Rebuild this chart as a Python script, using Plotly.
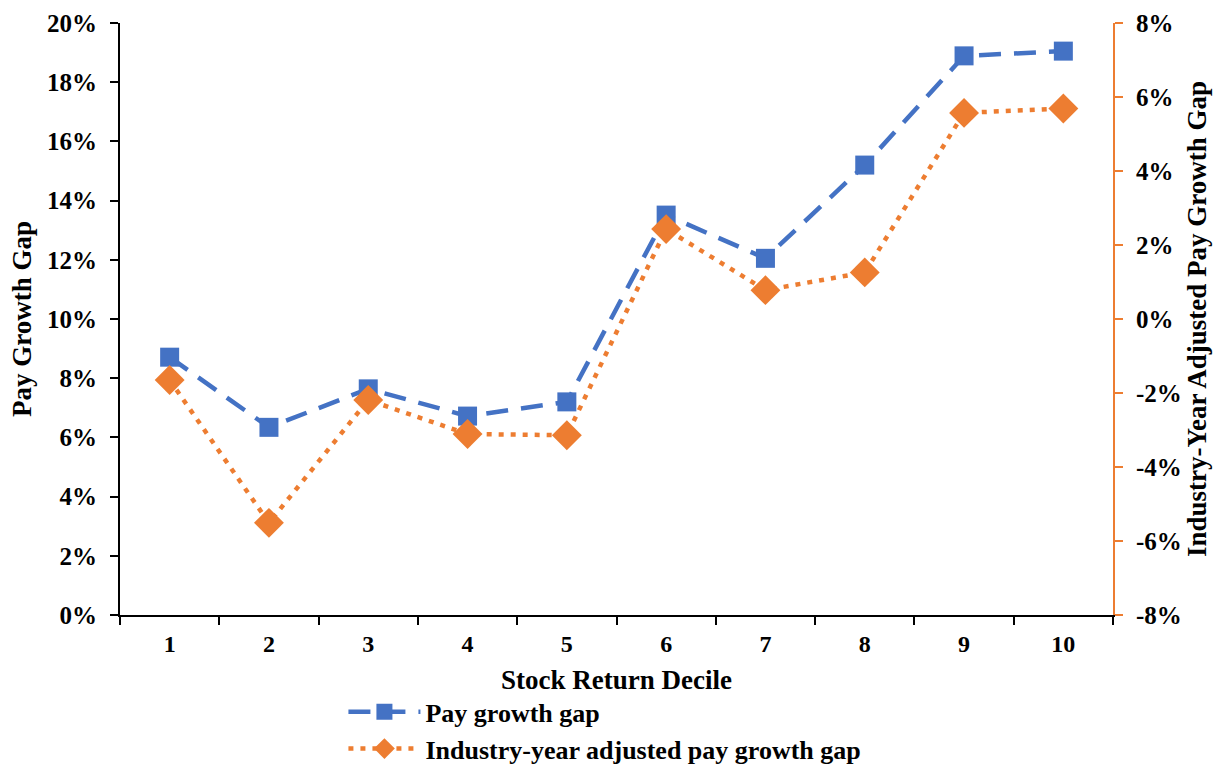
import plotly.graph_objects as go

deciles = ["1", "2", "3", "4", "5", "6", "7", "8", "9", "10"]
pay_growth_gap = [8.71, 6.34, 7.64, 6.72, 7.20, 13.51, 12.05, 15.20, 18.89, 19.05]
adjusted_gap = [-1.65, -5.51, -2.19, -3.11, -3.14, 2.43, 0.78, 1.26, 5.57, 5.69]

left_ticks = [0, 2, 4, 6, 8, 10, 12, 14, 16, 18, 20]
right_ticks = [-8, -6, -4, -2, 0, 2, 4, 6, 8]

BLUE = "#4472C4"
ORANGE = "#ED7D31"
FONT = "Times New Roman, Liberation Serif, serif"

fig = go.Figure()
fig.add_trace(go.Scatter(
    x=deciles, y=pay_growth_gap, name="Pay growth gap",
    mode="lines+markers",
    line=dict(color=BLUE, width=4.5, dash="22px,13px"),
    marker=dict(symbol="square", size=19, color=BLUE),
))
fig.add_trace(go.Scatter(
    x=deciles, y=adjusted_gap, name="Industry-year adjusted pay growth gap",
    mode="lines+markers", yaxis="y2",
    line=dict(color=ORANGE, width=4.5, dash="5px,7px"),
    marker=dict(symbol="diamond", size=23, color=ORANGE),
))

tick_font = dict(family=FONT, size=25, color="black", weight="bold")
title_font = dict(family=FONT, size=27, color="black", weight="bold")

fig.update_layout(
    width=1227, height=768,
    margin=dict(l=120, r=114, t=23, b=153, autoexpand=False),
    plot_bgcolor="white", paper_bgcolor="white",
    font=dict(family=FONT, color="black"),
    xaxis=dict(
        type="category", tickson="boundaries", ticks="outside",
        range=[-0.5, 9.5],
        ticklen=8, tickwidth=1.5, tickcolor="black",
        showline=True, linecolor="black", linewidth=2,
        showgrid=False, zeroline=False, ticklabelstandoff=6,
        tickfont=dict(family=FONT, size=24, color="black", weight="bold"),
        title=dict(text="Stock Return Decile", font=title_font, standoff=14),
    ),
    yaxis=dict(
        range=[0, 20], tickvals=left_ticks,
        ticktext=[f"{v}%" for v in left_ticks],
        ticks="outside", ticklen=8, tickwidth=1.5, tickcolor="black",
        showline=True, linecolor="black", linewidth=2,
        showgrid=False, zeroline=False, ticklabelstandoff=8,
        tickfont=tick_font,
        title=dict(text="Pay Growth Gap", font=title_font, standoff=8),
    ),
    yaxis2=dict(
        overlaying="y", side="right",
        range=[-8, 8], tickvals=right_ticks,
        ticktext=[f"{v}%" for v in right_ticks],
        ticks="outside", ticklen=8, tickwidth=1.5, tickcolor=ORANGE,
        showline=True, linecolor=ORANGE, linewidth=2,
        showgrid=False, zeroline=False, ticklabelstandoff=8,
        tickfont=tick_font,
        title=dict(text="Industry-Year Adjusted Pay Growth Gap", font=title_font, standoff=6),
    ),
    legend=dict(
        orientation="v", x=0.225, xanchor="left", y=-0.124, yanchor="top",
        font=dict(family=FONT, size=26, color="black", weight="bold"),
        bgcolor="rgba(0,0,0,0)", tracegroupgap=0, itemwidth=72,
    ),
    showlegend=True,
)

fig.write_html("out.html")
